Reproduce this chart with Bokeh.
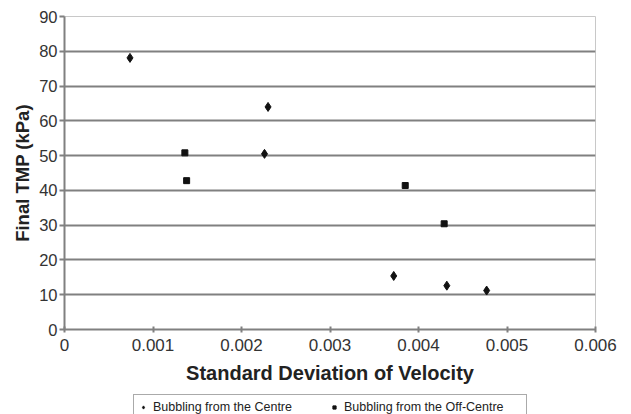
from bokeh.plotting import figure
from bokeh.layouts import column
from bokeh.models import Legend, LegendItem, FixedTicker, Range1d, CustomJSTickFormatter
from bokeh.embed import file_html
from bokeh.resources import INLINE

centre_x = [0.00074, 0.00230, 0.00226, 0.00372, 0.00432, 0.00477]
centre_y = [78.1, 64.0, 50.5, 15.4, 12.6, 11.2]
off_x = [0.00136, 0.00138, 0.00385, 0.00429]
off_y = [50.8, 42.8, 41.4, 30.4]
x_ticks = [0, 0.001, 0.002, 0.003, 0.004, 0.005, 0.006]
y_ticks = [0, 10, 20, 30, 40, 50, 60, 70, 80, 90]
x_title = "Standard Deviation of Velocity"
y_title = "Final TMP (kPa)"
labels = ["Bubbling from the Centre", "Bubbling from the Off-Centre"]

FONT = "Liberation Sans"
INK = "#111111"

p = figure(width=631, height=390, output_backend="svg", toolbar_location=None,
           x_range=Range1d(0, 0.006), y_range=Range1d(0, 90),
           min_border_left=64, min_border_right=36, min_border_top=16, min_border_bottom=61)
p.background_fill_color = "white"
p.border_fill_color = "white"
p.outline_line_color = "#c8c8c8"
p.outline_line_width = 1

r1 = p.scatter(centre_x, centre_y, marker="diamond", size=9, color=INK)
r2 = p.scatter(off_x, off_y, marker="square", size=6, color=INK)

p.xgrid.visible = False
p.ygrid.ticker = FixedTicker(ticks=y_ticks)
p.ygrid.grid_line_color = "#808080"
p.ygrid.grid_line_width = 2

p.xaxis.ticker = FixedTicker(ticks=x_ticks)
p.yaxis.ticker = FixedTicker(ticks=y_ticks)
p.xaxis.formatter = CustomJSTickFormatter(code="return tick == 0 ? '0' : tick.toFixed(3);")
for ax in (p.xaxis[0], p.yaxis[0]):
    ax.axis_line_color = "#808080"
    ax.axis_line_width = 2
    ax.major_tick_line_color = "#808080"
    ax.major_tick_line_width = 2
    ax.minor_tick_line_color = None
    ax.major_label_text_font = FONT
    ax.major_label_text_color = "#333333"
    ax.axis_label_text_font = FONT
    ax.axis_label_text_font_style = "bold"
    ax.axis_label_text_color = "#222222"
p.xaxis.major_label_text_font_size = "17px"
p.yaxis.major_label_text_font_size = "16.5px"
p.xaxis.axis_label_text_font_size = "20px"
p.yaxis.axis_label_text_font_size = "18.5px"
p.xaxis.major_tick_in = 3
p.xaxis.major_tick_out = 3
p.yaxis.major_tick_in = 0
p.yaxis.major_tick_out = 5
p.xaxis.major_label_standoff = 6
p.yaxis.major_label_standoff = 2
p.xaxis.axis_label = x_title
p.yaxis.axis_label = y_title
p.xaxis.axis_label_standoff = 8
p.yaxis.axis_label_standoff = 3

# legend strip below the chart (its frame is aligned with the chart's frame)
lf = figure(width=631, height=24, output_backend="svg", toolbar_location=None,
            x_axis_type=None, y_axis_type=None, min_border=0,
            x_range=Range1d(0, 1), y_range=Range1d(0, 1))
lf.outline_line_color = None
lf.xgrid.visible = False
lf.ygrid.visible = False
g1 = lf.scatter(x=[-10], y=[-10], marker="diamond", size=9, color=INK)
g2 = lf.scatter(x=[-10], y=[-10], marker="square", size=6, color=INK)

legend = Legend(items=[LegendItem(label=labels[0], renderers=[g1]),
                       LegendItem(label=labels[1], renderers=[g2])],
                orientation="horizontal", location=(69, -6))
legend.label_text_font = FONT
legend.label_text_font_size = "12.5px"
legend.label_text_color = "#222222"
legend.border_line_color = "#555555"
legend.border_line_width = 1
legend.background_fill_color = "white"
legend.glyph_width = 8
legend.glyph_height = 14
legend.label_standoff = 6
legend.label_width = 177
legend.spacing = 0
legend.padding = 5
legend.margin = 0
legend.label_height = 14
lf.add_layout(legend, "center")

layout = column(p, lf, spacing=0)
open("out.html", "w").write(file_html(layout, INLINE))
